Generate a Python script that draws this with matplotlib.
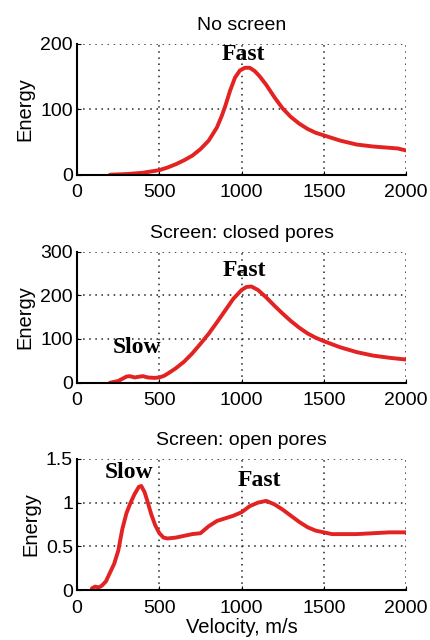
import matplotlib.pyplot as plt

# panel 1: no screen
v1 = [200, 300, 400, 450, 500, 550, 600, 650, 700, 750, 800, 850, 880, 900,
      930, 960, 990, 1020, 1050, 1080, 1110, 1150, 1200, 1250, 1300, 1350,
      1400, 1450, 1500, 1600, 1700, 1800, 1900, 1950, 2000]
e1 = [0, 1, 3, 5, 7, 11, 16, 22, 29, 39, 52, 72, 90, 104, 128, 148, 159,
      163, 163, 158, 150, 137, 118, 101, 88, 78, 70, 64, 60, 52, 46, 43, 41,
      40, 37]

# panel 2: screen, closed pores
v2 = [200, 250, 300, 320, 350, 380, 400, 430, 470, 500, 530, 560, 600, 650,
      700, 750, 800, 850, 900, 950, 1000, 1030, 1060, 1100, 1150, 1200, 1250,
      1300, 1350, 1400, 1450, 1500, 1600, 1700, 1800, 1900, 2000]
e2 = [0, 4, 14, 15, 12, 14, 15, 12, 11, 12, 16, 23, 33, 48, 67, 89, 112,
      138, 165, 192, 212, 219, 220, 212, 195, 176, 158, 141, 126, 113, 103,
      95, 81, 70, 62, 57, 53]

# panel 3: screen, open pores
v3 = [90, 110, 130, 150, 175, 200, 225, 250, 275, 300, 325, 350, 375, 390,
      410, 430, 450, 475, 500, 525, 550, 600, 650, 700, 750, 775, 800, 850,
      900, 950, 1000, 1050, 1100, 1150, 1200, 1250, 1300, 1350, 1400, 1450,
      1500, 1550, 1600, 1700, 1800, 1900, 2000]
e3 = [0.02, 0.04, 0.03, 0.05, 0.1, 0.2, 0.3, 0.45, 0.7, 0.88, 1.0, 1.1, 1.18,
      1.19, 1.12, 1.0, 0.87, 0.74, 0.65, 0.6, 0.59, 0.6, 0.62, 0.64, 0.65,
      0.69, 0.73, 0.79, 0.82, 0.85, 0.89, 0.96, 1.0, 1.02, 0.98, 0.92, 0.85,
      0.78, 0.72, 0.68, 0.66, 0.64, 0.64, 0.64, 0.65, 0.66, 0.66]

titles = ['No screen', 'Screen: closed pores', 'Screen: open pores']
ylims = [(0, 200), (0, 300), (0, 1.5)]
yticks = [[0, 100, 200], [0, 100, 200, 300], [0, 0.5, 1, 1.5]]
ylabels = [['0', '100', '200'], ['0', '100', '200', '300'], ['0', '0.5', '1', '1.5']]
xticks = [0, 500, 1000, 1500, 2000]
# annotations: (text, x, y)
notes = [[('Fast', 1010, 184)],
         [('Fast', 1017, 257), ('Slow', 363, 80)],
         [('Slow', 312, 1.35), ('Fast', 1108, 1.25)]]

plt.rcParams['font.family'] = ['Liberation Sans', 'DejaVu Sans']

fig = plt.figure(figsize=(4.31, 6.4), dpi=100)
bottoms = [0.727, 0.402, 0.078]
red = '#e32222'

for i, (v, e) in enumerate([(v1, e1), (v2, e2), (v3, e3)]):
    ax = fig.add_axes([0.179, bottoms[i], 0.763, 0.205])
    ax.plot(v, e, color=red, lw=2.8, solid_capstyle='round',
            solid_joinstyle='round')
    ax.set_xlim(0, 2000)
    ax.set_ylim(*ylims[i])
    ax.set_xticks(xticks)
    ax.set_yticks(yticks[i])
    ax.set_yticklabels(ylabels[i])
    ax.grid(True, color='#222222', linestyle=(0, (1, 3)), lw=1.1)
    ax.spines['top'].set_visible(False)
    ax.spines['right'].set_visible(False)
    ax.spines['left'].set_linewidth(1.5)
    ax.spines['bottom'].set_linewidth(1.5)
    ax.tick_params(direction='in', length=3, labelsize=14)
    ax.tick_params(axis='x', pad=7)
    ax.tick_params(axis='y', pad=3)
    ax.set_title(titles[i], fontsize=14, pad=10)
    ax.set_ylabel('Energy', fontsize=14.5, labelpad=4)
    for txt, x, y in notes[i]:
        ax.text(x, y, txt, ha='center', va='center', fontsize=17,
                fontweight='bold', family='Liberation Serif')
    if i == 2:
        ax.set_xlabel('Velocity, m/s', fontsize=14.5, labelpad=1)

fig.savefig('out.png', dpi=100)
